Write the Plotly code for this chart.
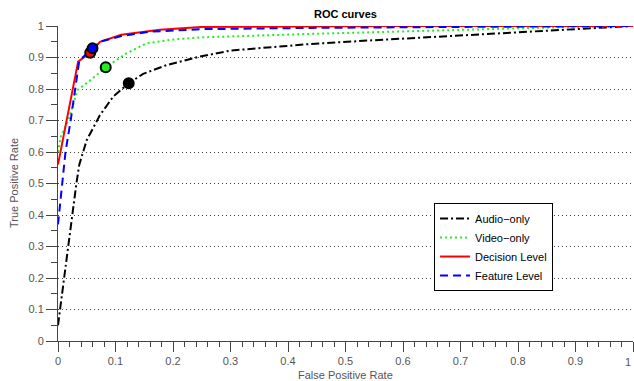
import plotly.graph_objects as go

# ---- data ----
audio_x = [0, 0.005, 0.017, 0.025, 0.032, 0.037, 0.05, 0.073, 0.096, 0.123, 0.148, 0.189, 0.247, 0.3, 0.363, 0.44, 0.55, 0.7, 0.85, 0.93, 1.0]
audio_y = [0.05, 0.12, 0.3, 0.4, 0.5, 0.56, 0.638, 0.717, 0.776, 0.818, 0.848, 0.876, 0.903, 0.922, 0.931, 0.943, 0.955, 0.97, 0.985, 0.993, 1.0]

video_x = [0, 0.005, 0.018, 0.034, 0.053, 0.083, 0.119, 0.154, 0.2, 0.25, 0.44, 0.7, 0.85, 1.0]
video_y = [0.6, 0.65, 0.70, 0.797, 0.823, 0.869, 0.913, 0.945, 0.957, 0.964, 0.975, 0.988, 0.995, 1.0]

decision_x = [0, 0.035, 0.056, 0.073, 0.11, 0.177, 0.25, 0.4, 0.6, 0.8, 1.0]
decision_y = [0.56, 0.887, 0.915, 0.95, 0.972, 0.988, 0.997, 0.999, 1.0, 1.0, 1.0]

feature_x = [0, 0.013, 0.022, 0.03, 0.037, 0.06, 0.073, 0.11, 0.16, 0.25, 0.44, 0.7, 1.0]
feature_y = [0.37, 0.6, 0.7, 0.8, 0.89, 0.929, 0.95, 0.968, 0.982, 0.99, 0.994, 0.997, 1.0]

op_names = ["Audio-only", "Video-only", "Decision Level", "Feature Level"]
op_x = [0.123, 0.083, 0.056, 0.06]
op_y = [0.818, 0.869, 0.915, 0.929]
op_colors = ["black", "#22ee22", "red", "blue"]

tick_vals = [i / 10 for i in range(11)]
tick_text = ["0", "0.1", "0.2", "0.3", "0.4", "0.5", "0.6", "0.7", "0.8", "0.9", "1"]

series = [
    ("Audio\u2212only", audio_x, audio_y, "black", "8px,3px,2px,3px"),
    ("Video\u2212only", video_x, video_y, "#22ee22", "2px,3px"),
    ("Decision Level", decision_x, decision_y, "red", "solid"),
    ("Feature Level", feature_x, feature_y, "blue", "8px,5px"),
]

FONT = "Liberation Sans"
W, H = 634, 381
L, R, T, B = 58, 1, 26, 40

fig = go.Figure()
for name, xs, ys, col, dash in series:
    fig.add_trace(go.Scatter(x=xs, y=ys, mode="lines", name=name,
                             line=dict(color=col, width=2, dash=dash)))

for nm, x, y, c in zip(op_names, op_x, op_y, op_colors):
    fig.add_trace(go.Scatter(x=[x], y=[y], mode="markers", showlegend=False,
                             marker=dict(size=10, color=c, line=dict(color="black", width=2)),
                             cliponaxis=False))

fig.update_layout(
    width=W, height=H,
    margin=dict(l=L, r=R, t=T, b=B, autoexpand=False),
    paper_bgcolor="white", plot_bgcolor="white",
    title=dict(text="<b>ROC curves</b>", x=(L + W - R) / 2 / W, xanchor="center",
               y=1 - 14 / H, yanchor="middle", automargin=False,
               font=dict(family=FONT, size=11, color="black")),
    font=dict(family=FONT, size=11, color="#555"),
    legend=dict(x=0.654, y=0.438, xanchor="left", yanchor="top",
                bgcolor="white", bordercolor="black", borderwidth=1,
                font=dict(family=FONT, size=11, color="black"),
                tracegroupgap=0, itemwidth=30),
    showlegend=True,
    annotations=[
        dict(text="False Positive Rate", xref="paper", yref="paper",
             x=0.5, y=-(375 - (H - B)) / (H - T - B), xanchor="center", yanchor="middle",
             showarrow=False, font=dict(family=FONT, size=11, color="#555")),
        dict(text="True Positive Rate", xref="paper", yref="paper",
             x=-(L - 14) / (W - L - R), y=(H - B - 183) / (H - T - B),
             xanchor="center", yanchor="middle", textangle=-90,
             showarrow=False, font=dict(family=FONT, size=11, color="#555")),
        dict(text=tick_text[-1], xref="x", yref="paper",
             x=tick_vals[-1], y=-(362 - (H - B)) / (H - T - B), xanchor="right", yanchor="middle",
             showarrow=False, font=dict(family=FONT, size=11, color="#555")),
    ],
)

fig.update_xaxes(range=[0, 1], tickvals=tick_vals, ticktext=tick_text, automargin=False,
                 ticks="outside", ticklen=10, tickcolor="#444", tickwidth=1,
                 showline=True, linecolor="#444", linewidth=1,
                 showgrid=False, zeroline=False,
                 minor=dict(dtick=0.02, tick0=0, ticks="outside", ticklen=5, tickcolor="#444", showgrid=False),
                 tickfont=dict(color="#555", size=11))

fig.update_yaxes(range=[0, 1], tickvals=tick_vals, ticktext=tick_text, automargin=False,
                 ticks="outside", ticklen=11, tickcolor="#444", tickwidth=1,
                 showline=True, linecolor="#444", linewidth=1,
                 showgrid=True, gridcolor="#444", gridwidth=1, griddash="1px,3px",
                 zeroline=False,
                 minor=dict(dtick=0.05, tick0=0, ticks="outside", ticklen=6, tickcolor="#444", showgrid=False),
                 tickfont=dict(color="#555", size=11))

fig.write_html("out.html", config={"displayModeBar": False},
               post_script="document.body.style.margin='0';document.body.style.padding='0';document.body.style.overflow='hidden';")
